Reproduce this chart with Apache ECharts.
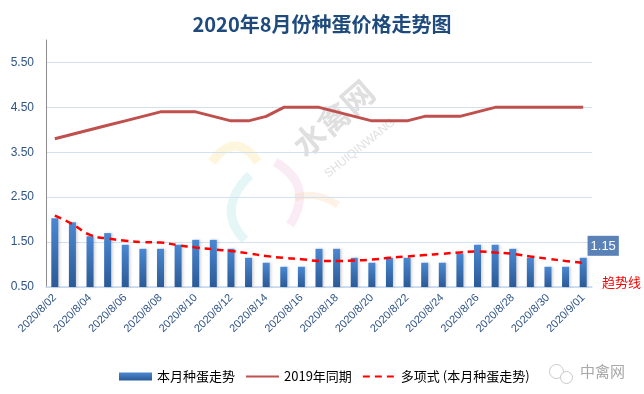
<!DOCTYPE html>
<html>
<head>
<meta charset="utf-8">
<script src="https://cdn.jsdelivr.net/npm/echarts@6/dist/echarts.min.js"></script>
<style>html,body{margin:0;padding:0;background:#fff;}#c{width:644px;height:394px;}</style>
</head>
<body>
<div id="c"></div>
<script>
const categories = ['2020/8/02','2020/8/03','2020/8/04','2020/8/05','2020/8/06','2020/8/07','2020/8/08','2020/8/09','2020/8/10','2020/8/11','2020/8/12','2020/8/13','2020/8/14','2020/8/15','2020/8/16','2020/8/17','2020/8/18','2020/8/19','2020/8/20','2020/8/21','2020/8/22','2020/8/23','2020/8/24','2020/8/25','2020/8/26','2020/8/27','2020/8/28','2020/8/29','2020/8/30','2020/8/31','2020/9/01'];
const thisMonth = [2.03,1.94,1.63,1.70,1.44,1.35,1.35,1.44,1.55,1.55,1.35,1.15,1.04,0.95,0.95,1.35,1.35,1.15,1.04,1.15,1.15,1.04,1.04,1.24,1.44,1.44,1.35,1.15,0.95,0.95,1.15];
const lastYear = [3.80,3.90,4.00,4.10,4.20,4.30,4.40,4.40,4.40,4.30,4.20,4.20,4.30,4.50,4.50,4.50,4.40,4.30,4.20,4.20,4.20,4.30,4.30,4.30,4.40,4.50,4.50,4.50,4.50,4.50,4.50];
const trend = [2.09,1.90,1.66,1.58,1.53,1.50,1.49,1.43,1.38,1.34,1.30,1.25,1.19,1.15,1.12,1.08,1.08,1.09,1.11,1.15,1.18,1.21,1.24,1.27,1.29,1.27,1.24,1.18,1.13,1.08,1.04];
const yTicks = [0.5,1.5,2.5,3.5,4.5,5.5];
const seriesNames = ['本月种蛋走势','2019年同期','多项式 (本月种蛋走势)'];

const chart = echarts.init(document.getElementById('c'));
const lastIdx = thisMonth.length - 1;
const barData = thisMonth.map((v,i)=> i===lastIdx ? {
  value:v,
  label:{show:true, position:'top', offset:[20,3], formatter:(p)=>p.value.toFixed(2),
    backgroundColor:'#5a82b6', color:'#fff', fontSize:13, padding:[4,3,3,3], fontFamily:'Liberation Sans, Arial, sans-serif'}
} : v);

const blueText = '#2e5385';
chart.setOption({
  animation:false,
  title:{text:'2020年8月份种蛋价格走势图', left:'center', top:9,
    textStyle:{fontSize:20, fontWeight:'bold', color:'#1f4b7c', fontFamily:'Noto Sans CJK SC'}},
  grid:{left:46, right:52, top:40, bottom:107},
  legend:{left:114, top:365, itemWidth:33, itemHeight:8, itemGap:10,
    textStyle:{fontSize:13, color:'#000', fontFamily:'Noto Sans CJK SC'},
    data:[{name:seriesNames[0], icon:'rect'},
      {name:seriesNames[1], itemStyle:{opacity:0}},
      {name:seriesNames[2], itemStyle:{opacity:0}}]},
  xAxis:{type:'category', data:categories, boundaryGap:true,
    axisLine:{lineStyle:{color:'#c5d7ee', width:1.5}},
    axisTick:{show:false},
    axisLabel:{interval:1, rotate:45, fontSize:11, color:blueText, margin:9, fontFamily:'Liberation Sans, Arial, sans-serif'}},
  yAxis:{type:'value', min:0.5, max:6, interval:1,
    axisLine:{show:true, lineStyle:{color:'#8c8c8c', width:1}},
    axisTick:{show:false},
    axisLabel:{fontSize:12, color:blueText, margin:12, fontFamily:'Liberation Sans, Arial, sans-serif',
      formatter:(v)=> yTicks.indexOf(Math.round(v*100)/100)>=0 ? v.toFixed(2) : ''},
    splitLine:{show:true, lineStyle:{color:['#d3e0f0','#d3e0f0','#d3e0f0','#d3e0f0','#d3e0f0','#d3e0f0','rgba(0,0,0,0)'], width:1}}},
  series:[
    {name:seriesNames[0], type:'bar', data:barData, barWidth:7, z:2,
      itemStyle:{color:new echarts.graphic.LinearGradient(0,0,0,1,[{offset:0,color:'#4a88d2'},{offset:1,color:'#2b5a97'}]),
        shadowColor:'rgba(0,0,0,0.18)', shadowBlur:3, shadowOffsetX:1.5}},
    {name:seriesNames[1], type:'line', data:lastYear, symbol:'none', smooth:false, z:3,
      lineStyle:{color:'#c0504d', width:3}, itemStyle:{color:'#c0504d'}},
    {name:seriesNames[2], type:'line', data:trend, symbol:'none', smooth:true, z:4,
      lineStyle:{color:'#ff0000', width:2.5, type:[7,5]}, itemStyle:{color:'#ff0000'}}
  ],
  graphic:[
    {type:'group', silent:true, z:-10, children:[
      {type:'bezierCurve', shape:{x1:212,y1:162,cpx1:235,cpy1:130,x2:258,y2:162}, style:{stroke:'rgba(250,215,120,0.25)', lineWidth:9, fill:null}},
      {type:'bezierCurve', shape:{x1:250,y1:175,cpx1:215,cpy1:210,x2:245,y2:240}, style:{stroke:'rgba(150,220,225,0.25)', lineWidth:9, fill:null}},
      {type:'bezierCurve', shape:{x1:275,y1:162,cpx1:315,cpy1:185,x2:290,y2:225}, style:{stroke:'rgba(230,170,210,0.22)', lineWidth:9, fill:null}},
      {type:'bezierCurve', shape:{x1:295,y1:198,cpx1:315,cpy1:190,x2:338,y2:205}, style:{stroke:'rgba(250,200,150,0.25)', lineWidth:7, fill:null}},
      {type:'text', x:308, y:162, rotation:0.72, style:{text:'水禽网', fontSize:32, fill:'rgba(150,150,150,0.3)', fontFamily:'Noto Sans CJK SC', fontWeight:'bold', textVerticalAlign:'bottom'}},
      {type:'text', x:330, y:180, rotation:0.68, style:{text:'SHUIQINWANG', fontSize:12, fill:'rgba(150,150,150,0.3)', fontFamily:'Liberation Sans', textVerticalAlign:'bottom'}}
    ]},
    {type:'text', left:602, top:276, style:{text:'趋势线', fontSize:13, fill:'#ff0000', fontFamily:'Noto Sans CJK SC'}},
    {type:'group', left:549, top:364, children:[
      {type:'circle', shape:{cx:9, cy:7, r:7}, style:{stroke:'#c8c8c8', fill:'#fff', lineWidth:1}},
      {type:'circle', shape:{cx:19, cy:13, r:6}, style:{stroke:'#c8c8c8', fill:'#fff', lineWidth:1}}
    ]},
    {type:'text', left:580, top:364, style:{text:'中禽网', fontSize:15, fill:'#a8a8a8', fontFamily:'Noto Sans CJK SC'}}
  ]
});
</script>
</body>
</html>
